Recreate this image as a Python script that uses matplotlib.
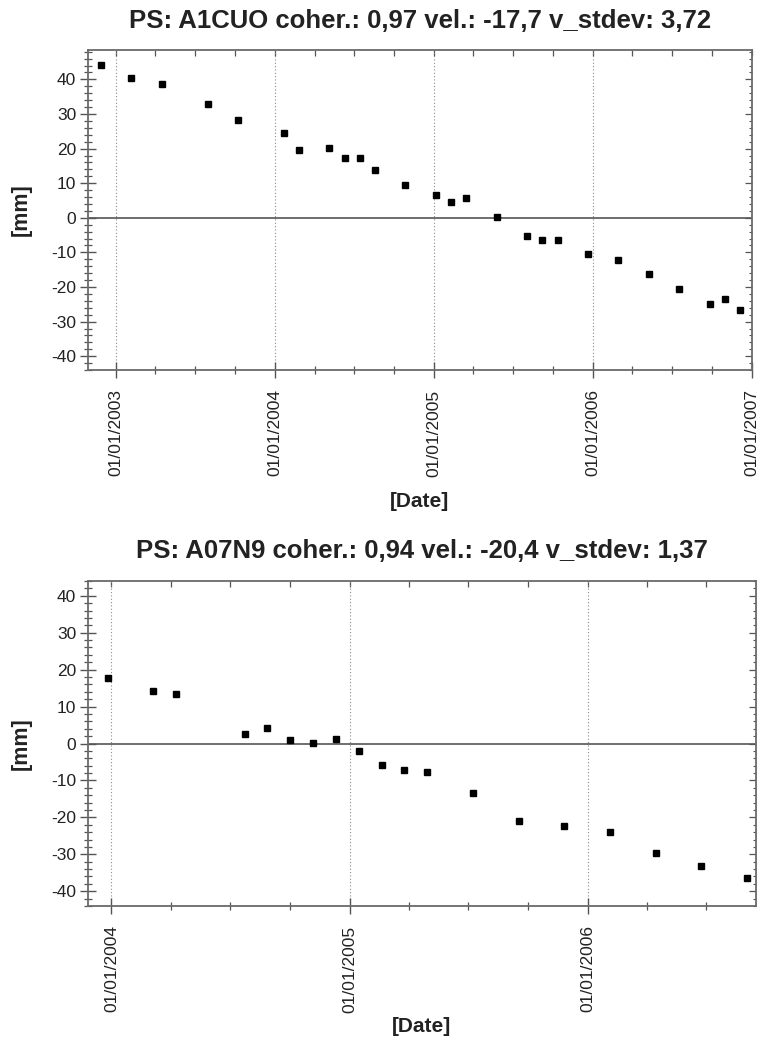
import matplotlib
matplotlib.use("Agg")
from matplotlib import pyplot as plt
import matplotlib.dates as mdates
from matplotlib.ticker import MultipleLocator
import numpy as np

plt.rcParams["font.family"] = ["Liberation Sans", "DejaVu Sans"]
plt.rcParams["axes.unicode_minus"] = False

# PS A1CUO time series
ps1_name = "A1CUO"
ps1_stats = ("0,97", "-17,7", "3,72")
ps1_dates = [
    "2002-11-27", "2003-02-05", "2003-04-16", "2003-07-30", "2003-10-08",
    "2004-01-21", "2004-02-25", "2004-05-05", "2004-06-09", "2004-07-14",
    "2004-08-18", "2004-10-27", "2005-01-05", "2005-02-09", "2005-03-16",
    "2005-05-25", "2005-08-03", "2005-09-07", "2005-10-12", "2005-12-21",
    "2006-03-01", "2006-05-10", "2006-07-19", "2006-09-27", "2006-11-01",
    "2006-12-06",
]
ps1_disp = [
    44.2, 40.3, 38.6, 33.0, 28.3, 24.5, 19.6, 20.3, 17.4, 17.3,
    13.7, 9.6, 6.6, 4.7, 5.6, 0.1, -5.4, -6.3, -6.5, -10.4,
    -12.1, -16.3, -20.5, -25.0, -23.5, -26.7,
]

# PS A07N9 time series
ps2_name = "A07N9"
ps2_stats = ("0,94", "-20,4", "1,37")
ps2_dates = [
    "2003-12-26", "2004-03-05", "2004-04-09", "2004-07-23", "2004-08-27",
    "2004-10-01", "2004-11-05", "2004-12-10", "2005-01-14", "2005-02-18",
    "2005-03-25", "2005-04-29", "2005-07-08", "2005-09-16", "2005-11-25",
    "2006-02-03", "2006-04-14", "2006-06-23", "2006-09-01",
]
ps2_disp = [
    17.7, 14.2, 13.5, 2.6, 4.3, 0.9, 0.2, 1.1, -2.1, -5.9,
    -7.1, -7.8, -13.5, -20.9, -22.4, -23.9, -29.6, -33.2, -36.4,
]

frame_col = "#6a6a6a"
text_col = "#222222"


def ps_panel(fig, rect, name, stats, dates, disp, xlim, ylim, title_pad, xlabel_y):
    ax = fig.add_axes(rect)
    t = np.array(dates, dtype="datetime64[D]").astype("O")
    ax.plot(t, disp, "s", color="black", markersize=3.8, linestyle="none", zorder=3)

    ax.set_xlim(np.datetime64(xlim[0]).astype("O"), np.datetime64(xlim[1]).astype("O"))
    ax.set_ylim(*ylim)

    ax.axhline(0, color="#555555", lw=1.2, zorder=2)

    ax.xaxis.set_major_locator(mdates.YearLocator())
    ax.xaxis.set_minor_locator(mdates.MonthLocator(bymonth=[1, 4, 7, 10]))
    ax.xaxis.set_major_formatter(mdates.DateFormatter("%d/%m/%Y"))
    ax.yaxis.set_major_locator(MultipleLocator(10))
    ax.yaxis.set_minor_locator(MultipleLocator(2))

    ax.grid(axis="x", which="major", color="#8a8a8a", lw=0.8, linestyle=(0, (1, 2)))

    ax.tick_params(axis="both", which="major", direction="inout", length=11,
                   width=1, color="#555555", labelsize=12.5, labelcolor=text_col)
    ax.tick_params(axis="both", which="minor", direction="inout", length=5.5,
                   width=0.9, color="#555555")
    ax.tick_params(axis="x", which="major", pad=8.5, labelrotation=90)
    ax.tick_params(axis="y", which="major", pad=3)

    top = ax.secondary_xaxis("top")
    top.xaxis.set_major_locator(mdates.MonthLocator(bymonth=[1, 4, 7, 10]))
    top.tick_params(direction="in", length=4, width=0.9, color="#555555",
                    labeltop=False)
    right = ax.secondary_yaxis("right")
    right.yaxis.set_major_locator(MultipleLocator(10))
    right.yaxis.set_minor_locator(MultipleLocator(2))
    right.tick_params(which="major", direction="in", length=5, width=0.9,
                      color="#555555", labelright=False)
    right.tick_params(which="minor", direction="in", length=2.5, width=0.8,
                      color="#555555")
    for sec in (top, right):
        for sp in sec.spines.values():
            sp.set_visible(False)

    for sp in ax.spines.values():
        sp.set_color(frame_col)
        sp.set_linewidth(1.3)

    ax.set_title(f"PS: {name} coher.: {stats[0]} vel.: {stats[1]} v_stdev: {stats[2]}",
                 fontsize=18.5, fontweight="bold", color=text_col, pad=title_pad)
    ax.set_ylabel("[mm]", fontsize=15.5, fontweight="bold", color=text_col)
    ax.yaxis.set_label_coords(-0.084, 0.5)
    ax.set_xlabel("[Date]", fontsize=15, fontweight="bold", color=text_col)
    ax.xaxis.set_label_coords(0.5, xlabel_y)
    return ax


fig = plt.figure(figsize=(7.57, 10.5), dpi=100)

ps_panel(fig, [0.1162, 0.6476, 0.8772, 0.3048], ps1_name, ps1_stats, ps1_dates, ps1_disp,
         ("2002-10-28", "2007-01-02"), (-44, 48.5), 16, -0.382)
ps_panel(fig, [0.1162, 0.1371, 0.8825, 0.3096], ps2_name, ps2_stats, ps2_dates, ps2_disp,
         ("2003-11-26", "2006-09-15"), (-44, 44), 16.5, -0.34)

fig.savefig("out.png", dpi=100)
